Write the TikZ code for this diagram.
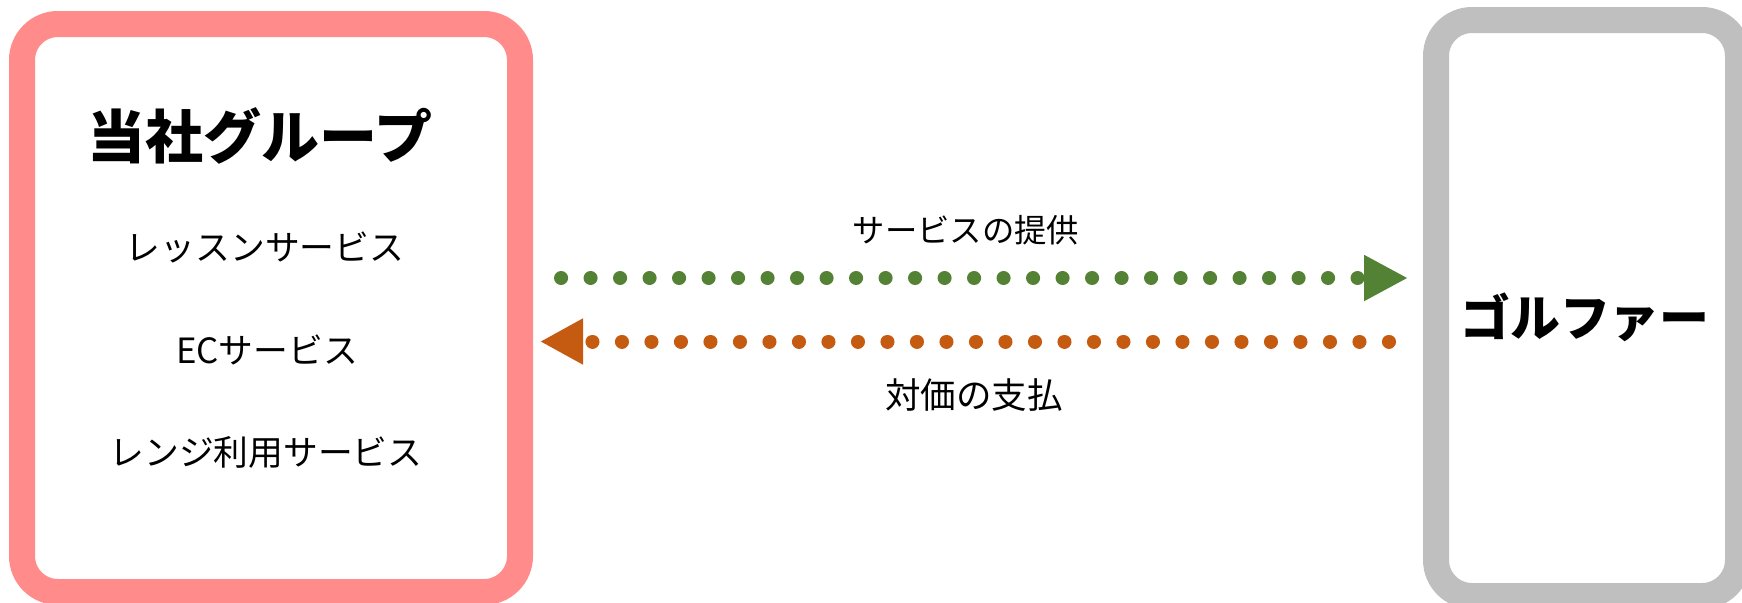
\documentclass[tikz,border=0pt]{standalone}
\usepackage{fontspec}
\setmainfont{Noto Sans CJK JP}
\usetikzlibrary{arrows.meta}
\usetikzlibrary{positioning}
\definecolor{grouppink}{RGB}{255,139,139}
\definecolor{golfergray}{RGB}{191,191,191}
\definecolor{servgreen}{RGB}{84,130,53}
\definecolor{payorange}{RGB}{197,90,17}

\begin{document}
\begin{tikzpicture}[every node/.style={inner sep=0pt,text=black,font=\fontsize{9.9pt}{12pt}\selectfont},
  party/.style={draw,line width=0.26cm,rounded corners=0.36cm,fill=white},
  title/.style={font=\fontsize{16.5pt}{20pt}\selectfont\bfseries},
  flow/.style={line width=0.14cm,line cap=round,dash pattern=on 0.01mm off 2.94mm}]
\useasboundingbox (0,0) rectangle (17.42,6.02);

\node[party,draw=grouppink,minimum width=4.98cm,minimum height=5.68cm](group) at (2.71,2.94) {};
\node[party,draw=golfergray,minimum width=3.02cm,minimum height=5.76cm](golfer) at (15.87,2.94) {};

\node[title](groupname) at (2.60,4.66) {当社グループ};
\node(lesson) at (2.65,3.55) {レッスンサービス};
\node(ec) at (2.67,2.52) {ECサービス};
\node(range) at (2.66,1.50) {レンジ利用サービス};
\node[font=\fontsize{14.2pt}{18pt}\selectfont\bfseries](golfername) at (15.85,2.85) {ゴルファー};

\node[font=\fontsize{9.2pt}{12pt}\selectfont](provide) at (9.66,3.72) {サービスの提供};
\node[font=\fontsize{10.1pt}{12pt}\selectfont](pay) at (9.74,2.07) {対価の支払};

\draw[flow,draw=servgreen,-{Triangle[length=0.44cm,width=0.43cm]},shorten <=0.28cm,shorten >=0.15cm]
  ([yshift=0.30cm]group.east) -- ([yshift=0.30cm]golfer.west);
\draw[flow,draw=payorange,-{Triangle[length=0.43cm,width=0.43cm]},shorten <=0.34cm,shorten >=0.07cm]
  ([yshift=-0.335cm]golfer.west) -- ([yshift=-0.335cm]group.east);
\end{tikzpicture}
\end{document}
